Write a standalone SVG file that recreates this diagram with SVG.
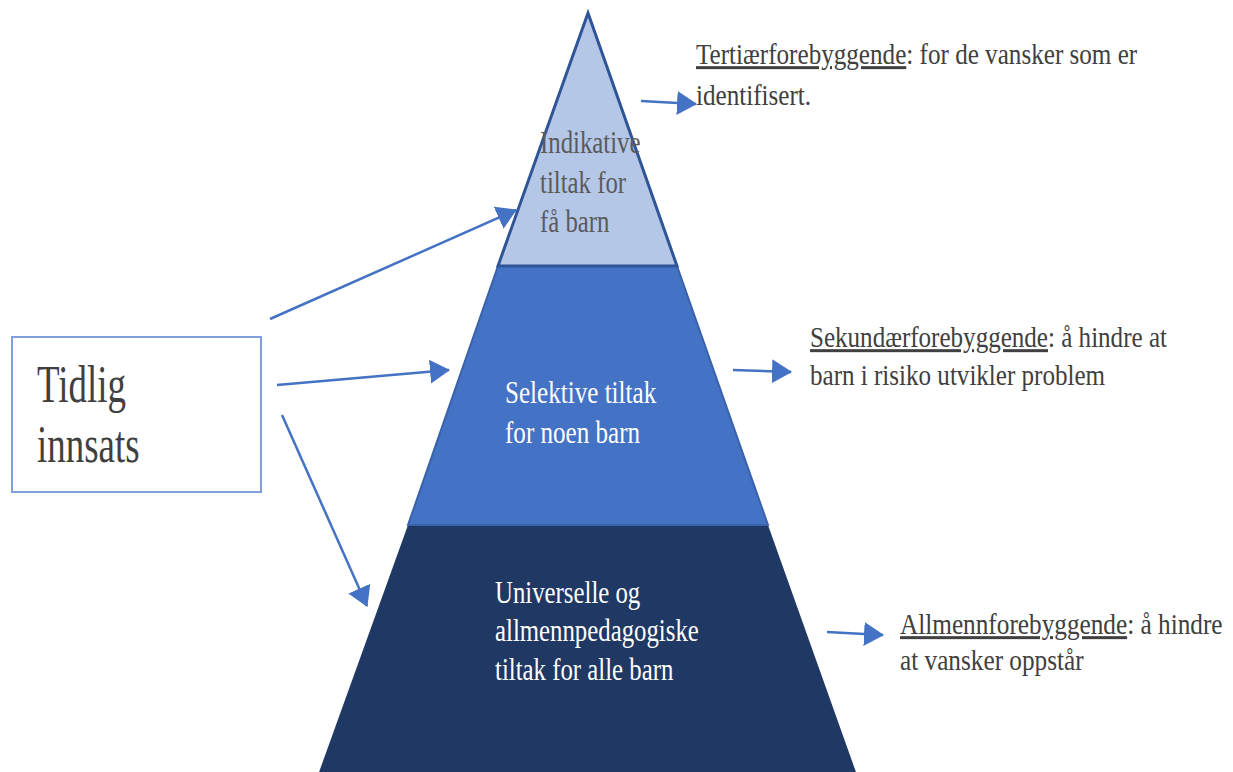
<svg xmlns="http://www.w3.org/2000/svg" width="1233" height="772" viewBox="0 0 1233 772">
<style>
text{font-family:"Liberation Serif","Times New Roman",serif;}
.lbl{font-size:30px;fill:#404040;}
.py{font-size:31px;}
.w{fill:#ffffff;}
.g{fill:#5a5a5a;}
.big{font-size:52px;fill:#404040;}
.u{text-decoration:underline;}
.conn{stroke:#4472C4;stroke-width:2.5;fill:none;marker-end:url(#ah);}
</style>
<defs>
<marker id="ah" markerUnits="userSpaceOnUse" markerWidth="20" markerHeight="24" refX="19" refY="12" orient="auto">
<path d="M0,0 L20,12 L0,24 z" fill="#4472C4"/>
</marker>
</defs>
<rect width="1233" height="772" fill="#ffffff"/>
<g id="level-bottom">
<polygon points="408,525 768,525 857,775 318,775" fill="#203864"/>
<g transform="translate(495,0) scale(0.8,1)">
<text class="py w" x="0" y="603">Universelle og</text>
<text class="py w" x="0" y="641">allmennpedagogiske</text>
<text class="py w" x="0" y="680">tiltak for alle barn</text>
</g>
</g>
<g id="level-middle">
<polygon points="498,266 677,266 768,525 408,525" fill="#4472C4" stroke="#3A62AA" stroke-width="2"/>
<g transform="translate(505,0) scale(0.81,1)">
<text class="py w" x="0" y="403">Selektive tiltak</text>
<text class="py w" x="0" y="443">for noen barn</text>
</g>
</g>
<g id="level-top">
<polygon points="588,13 677,266 498,266" fill="#B4C7E7" stroke="#2F5597" stroke-width="3"/>
<g transform="translate(540,0) scale(0.8,1)">
<text class="py g" x="0" y="153">Indikative</text>
<text class="py g" x="0" y="193">tiltak for</text>
<text class="py g" x="0" y="232">få barn</text>
</g>
</g>
<g id="tidlig-innsats">
<rect x="12" y="337" width="249" height="155" fill="#ffffff" stroke="#7FA0DA" stroke-width="2"/>
<g transform="translate(37,0) scale(0.71,1)">
<text class="big" x="0" y="402">Tidlig</text>
<text class="big" x="0" y="462">innsats</text>
</g>
</g>
<g id="tertiaer" transform="translate(696,0) scale(0.838,1)">
<text class="lbl" x="0" y="64"><tspan class="u">Tertiærforebyggende</tspan>: for de vansker som er</text>
<text class="lbl" x="0" y="105">identifisert.</text>
</g>
<g id="sekundaer" transform="translate(810,0) scale(0.836,1)">
<text class="lbl" x="0" y="347"><tspan class="u">Sekundærforebyggende</tspan>: å hindre at</text>
<text class="lbl" x="0" y="385">barn i risiko utvikler problem</text>
</g>
<g id="allmenn" transform="translate(900,0) scale(0.842,1)">
<text class="lbl" x="0" y="634"><tspan class="u">Allmennforebyggende</tspan>: å hindre</text>
<text class="lbl" x="0" y="670">at vansker oppstår</text>
</g>
<g id="connectors">
<line class="conn" x1="270" y1="319" x2="516" y2="210"/>
<line class="conn" x1="277" y1="385" x2="449" y2="370"/>
<line class="conn" x1="282" y1="415" x2="367" y2="606"/>
<line class="conn" x1="641" y1="101" x2="696" y2="104"/>
<line class="conn" x1="733" y1="370" x2="791" y2="372"/>
<line class="conn" x1="827" y1="632" x2="883" y2="635"/>
</g>
</svg>
